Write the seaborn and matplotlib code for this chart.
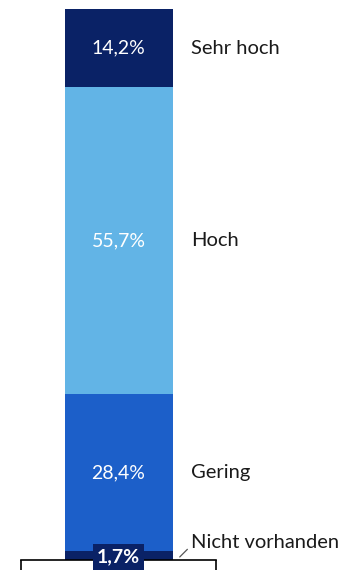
import matplotlib
matplotlib.use("Agg")
import matplotlib.pyplot as plt
import seaborn as sns
import pandas as pd

# Stacked share of responses (percent), listed from bottom to top
categories = ["Nicht vorhanden", "Gering", "Hoch", "Sehr hoch"]
values = [1.7, 28.4, 55.7, 14.2]
labels = ["1,7%", "28,4%", "55,7%", "14,2%"]
colors = ["#0a2266", "#1c5fc9", "#62b4e6", "#0a2266"]

sns.set_theme(style="white")
plt.rcParams["font.family"] = ["Lato", "DejaVu Sans"]

fig = plt.figure(figsize=(3.5, 5.71), dpi=100)
ax = fig.add_axes([21 / 350, 11 / 571, 195 / 350, 551 / 571])

df = pd.DataFrame({"group": ["all"] * len(values), "category": categories, "value": values})

bottom = 0.0
bar_w = 108 / 195
fs = 14
fs_cat = 14.5
for cat, val, lab, col in zip(categories, values, labels, colors):
    sub = df[df["category"] == cat]
    sns.barplot(data=sub, x="group", y="value", ax=ax, color=col, width=bar_w,
                bottom=bottom, saturation=1, edgecolor="none", linewidth=0, errorbar=None)
    mid = bottom + val / 2
    if cat == "Nicht vorhanden":
        ax.text(0, mid - 0.3, lab, ha="center", va="center", color="white",
                fontsize=fs, fontweight="bold",
                bbox=dict(boxstyle="square,pad=0.22", fc="#0a2266", ec="none"))
        ax.annotate(cat, xy=(0.314, mid - 0.3), xytext=(0.37, mid + 2.3),
                    ha="left", va="center", fontsize=fs_cat, color="#1a1a1a",
                    arrowprops=dict(arrowstyle="-", color="#555555", lw=0.9,
                                    shrinkA=0, shrinkB=0, relpos=(0, 0.3)),
                    annotation_clip=False)
    else:
        ax.text(0, mid, lab, ha="center", va="center", color="white", fontsize=fs)
        ax.text(0.37, mid, cat, ha="left", va="center", fontsize=fs_cat,
                color="#1a1a1a", clip_on=False)
    bottom += val

ax.set_xlim(-0.5, 0.5)
ax.set_ylim(0, 100)
ax.set_xlabel("")
ax.set_ylabel("")
ax.set_yticks([])
ax.set_xticks([-0.5, 0.5])
ax.set_xticklabels([])
ax.tick_params(axis="x", direction="out", length=7, width=1.2, color="black", bottom=True)
for side in ["top", "left", "right"]:
    ax.spines[side].set_visible(False)
ax.spines["bottom"].set_color("black")
ax.spines["bottom"].set_linewidth(1.2)

fig.savefig("out.png", dpi=100, facecolor="white")
